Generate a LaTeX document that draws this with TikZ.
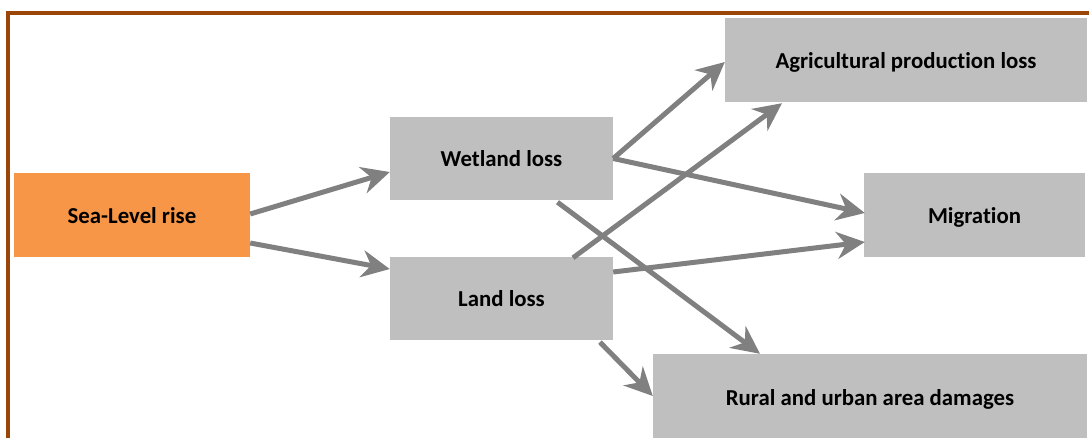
\documentclass[tikz,border=0pt]{standalone}
\usepackage{fontspec}
\setmainfont{Carlito}[Ligatures={NoCommon}]
\usetikzlibrary{arrows.meta,calc}
\definecolor{borderbrown}{RGB}{153,70,8}
\definecolor{boxgray}{RGB}{191,191,191}
\definecolor{seaorange}{RGB}{247,150,70}
\definecolor{arrowgray}{RGB}{128,128,128}
\tikzset{
  box/.style={fill=boxgray, draw=none, inner sep=0pt, text height=16.4pt, text depth=0pt,
    font=\bfseries\fontsize{22.8}{26}\selectfont},
  conn/.style={draw=arrowgray, line width=5pt, -{Stealth[length=28pt,width=27pt,inset=9pt]}},
}
\begin{document}
\begin{tikzpicture}[x=1pt,y=-1pt]
\useasboundingbox (0,0) rectangle (1089,437);
\begin{scope}
\clip (0,0) rectangle (1089,437);
\draw[borderbrown, line width=4pt] (8,440) -- (8,13) -- (1095,13);
\node[box, fill=seaorange, minimum width=236pt, minimum height=84pt] (sea) at (132,215) {Sea-Level rise};
\node[box, minimum width=223pt, minimum height=83pt] (wet) at (501.5,158.5) {Wetland loss};
\node[box, minimum width=223pt, minimum height=83pt] (land) at (501.5,298.5) {Land loss};
\node[box, minimum width=362pt, minimum height=84pt] (agri) at (906,60) {Agricultural production loss};
\node[box, minimum width=221pt, minimum height=84pt] (mig) at (974.5,215) {Migration};
\node[box, minimum width=434pt, minimum height=86pt] (rural) at (870,397) {Rural and urban area damages};
\draw[conn] ($(sea.east)+(0,-1)$) -- ($(wet.west)+(0,13.5)$);
\draw[conn] ($(sea.east)+(0,28)$) -- ($(land.west)+(0,-29.5)$);
\draw[conn] (wet.east) -- ($(agri.west)+(0,2)$);
\draw[conn] (wet.east) -- ($(mig.west)+(1,-2)$);
\draw[conn] ($(wet.south)+(56,2)$) -- ($(rural.north)+(-110,0)$);
\draw[conn] ($(land.north)+(71.5,1)$) -- ($(agri.south)+(-124,1)$);
\draw[conn] ($(land.east)+(0,-26.5)$) -- ($(mig.west)+(1,27)$);
\draw[conn] ($(land.south)+(98.5,2)$) -- ($(rural.west)+(0,-1)$);
\end{scope}
\end{tikzpicture}
\end{document}
